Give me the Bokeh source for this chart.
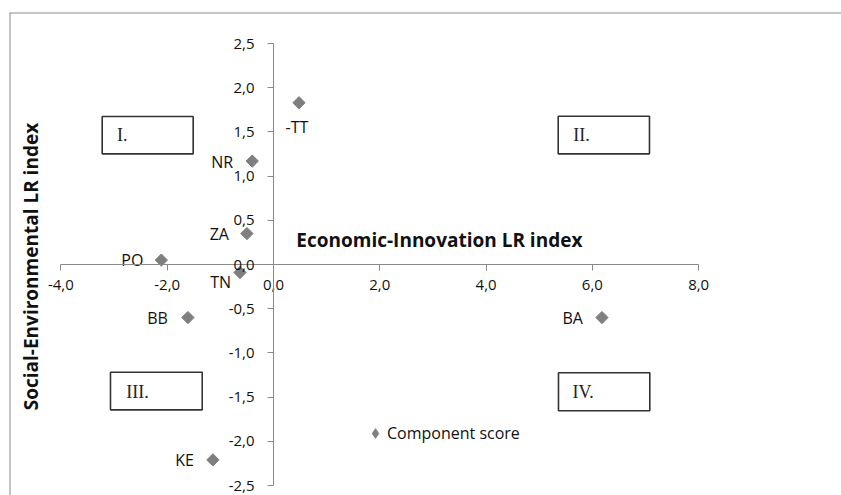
import numpy as np
from bokeh.plotting import figure
from bokeh.models import (Range1d, FixedTicker, BoxAnnotation, Label, Span,
                          ColumnDataSource, Legend, LegendItem)
from bokeh.embed import file_html
from bokeh.resources import INLINE

# ---------------- data ----------------
region_labels = ["-TT", "NR", "ZA", "PO", "TN", "BB", "KE", "BA"]
econ_innov = [0.48, -0.40, -0.50, -2.11, -0.63, -1.61, -1.14, 6.18]
soc_env = [1.83, 1.17, 0.35, 0.05, -0.09, -0.60, -2.21, -0.60]

x_ticks = [-4.0, -2.0, 0.0, 2.0, 4.0, 6.0, 8.0]
x_tick_labels = ["-4,0", "-2,0", "0,0", "2,0", "4,0", "6,0", "8,0"]
y_ticks = [-2.5, -2.0, -1.5, -1.0, -0.5, 0.0, 0.5, 1.0, 1.5, 2.0, 2.5]
y_tick_labels = ["-2,5", "-2,0", "-1,5", "-1,0", "-0,5", "0,0",
                 "0,5", "1,0", "1,5", "2,0", "2,5"]

quadrant_names = ["I.", "II.", "III.", "IV."]
series_name = "Component score"

# ---------------- layout / style ----------------
label_dx = [-2, -19, -18, -18, -9, -20, -19, -19]
label_dy = [24, 1, 0, 0, 10, 0, 0, 0]
label_align = ["center", "right", "right", "right", "right", "right", "right", "right"]

quad_boxes = [(-3.223, -1.511, 1.674, 1.252),
              (5.357, 7.074, 1.678, 1.252),
              (-3.067, -1.341, -1.218, -1.644),
              (5.362, 7.080, -1.225, -1.655)]
quad_text_pos = [(-2.944, 1.462), (5.64, 1.46), (-2.77, -1.44), (5.626, -1.44)]

FONT = "Open Sans"
GREY = "#7f7f7f"
AXIS_GREY = "#8a8a8a"
X0, X1 = -4.967, 10.687
Y0, Y1 = -2.613, 2.851

p = figure(width=841, height=495, output_backend="svg", toolbar_location=None,
           x_range=Range1d(X0, X1), y_range=Range1d(Y0, Y1),
           min_border_left=9, min_border_right=0, min_border_top=12,
           min_border_bottom=0)
p.background_fill_color = "white"
p.border_fill_color = "white"
p.outline_line_color = None
p.grid.visible = False

# chart-area border (only left and top edges fall inside the picture)
p.add_layout(Span(location=X0, dimension="height", line_color="#8c8c8c",
                  line_width=2))
p.add_layout(Span(location=Y1, dimension="width", line_color="#8c8c8c",
                  line_width=2))

for ax in (p.xaxis[0], p.yaxis[0]):
    ax.fixed_location = 0
    ax.axis_line_color = AXIS_GREY
    ax.axis_line_width = 1
    ax.major_tick_line_color = AXIS_GREY
    ax.major_tick_in = 0
    ax.major_tick_out = 6
    ax.minor_tick_line_color = None
    ax.major_label_text_font = FONT
    ax.major_label_text_font_size = "15px"
    ax.major_label_text_color = "#111111"

p.xaxis[0].bounds = (-4, 8)
p.xaxis[0].ticker = FixedTicker(ticks=x_ticks)
p.xaxis[0].major_label_overrides = dict(zip(x_ticks, x_tick_labels))
p.xaxis[0].major_label_standoff = 9

p.yaxis[0].bounds = (-2.5, 2.5)
p.yaxis[0].ticker = FixedTicker(ticks=y_ticks)
p.yaxis[0].major_label_overrides = dict(zip(y_ticks, y_tick_labels))
p.yaxis[0].major_label_standoff = 13

for (l, r, t, b), name, (tx, ty) in zip(quad_boxes, quadrant_names, quad_text_pos):
    p.add_layout(BoxAnnotation(left=l, right=r, top=t, bottom=b,
                               fill_color="white", fill_alpha=1.0,
                               line_color="#333333", line_alpha=1.0,
                               line_width=1.6, level="underlay"))
    p.add_layout(Label(x=tx, y=ty, text=name, text_align="left",
                       text_baseline="middle", text_font="Liberation Serif",
                       text_font_size="18px", text_color="#222222"))

src = ColumnDataSource(dict(x=econ_innov, y=soc_env, name=region_labels,
                            dx=label_dx, dy=label_dy, align=label_align))

p.scatter("x", "y", source=src, marker="square", angle=np.pi / 4, size=8.7,
          fill_color=GREY, line_color=GREY)

# legend swatch renderer: diamond shape, holds only a NaN placeholder
swatch = p.scatter(x=[float("nan")], y=[float("nan")], marker="diamond",
                   size=10, fill_color=GREY, line_color=GREY)

p.text("x", "y", text="name", source=src, x_offset="dx", y_offset="dy",
       text_align="align", text_baseline="middle", text_font={"value": FONT},
       text_font_size="16px", text_color="#111111")

p.add_layout(Label(x=0.43, y=0.283, text="Economic-Innovation LR index",
                   text_align="left", text_baseline="middle",
                   text_font=FONT, text_font_style="bold",
                   text_font_size="19px", text_color="#111111"))
p.add_layout(Label(x=-4.56, y=-0.023, text="Social-Environmental LR index",
                   angle=np.pi / 2, text_align="center", text_baseline="middle",
                   text_font=FONT, text_font_style="bold",
                   text_font_size="19px", text_color="#111111"))

leg = Legend(items=[LegendItem(label=series_name, renderers=[swatch])],
             location=(354, 50))
leg.border_line_color = None
leg.background_fill_alpha = 0
leg.padding = 0
leg.margin = 0
leg.glyph_width = 24
leg.glyph_height = 24
leg.label_standoff = 0
leg.label_text_font = FONT
leg.label_text_font_size = "16px"
leg.label_text_color = "#111111"
p.add_layout(leg)

open("out.html", "w").write(file_html(p, INLINE))
